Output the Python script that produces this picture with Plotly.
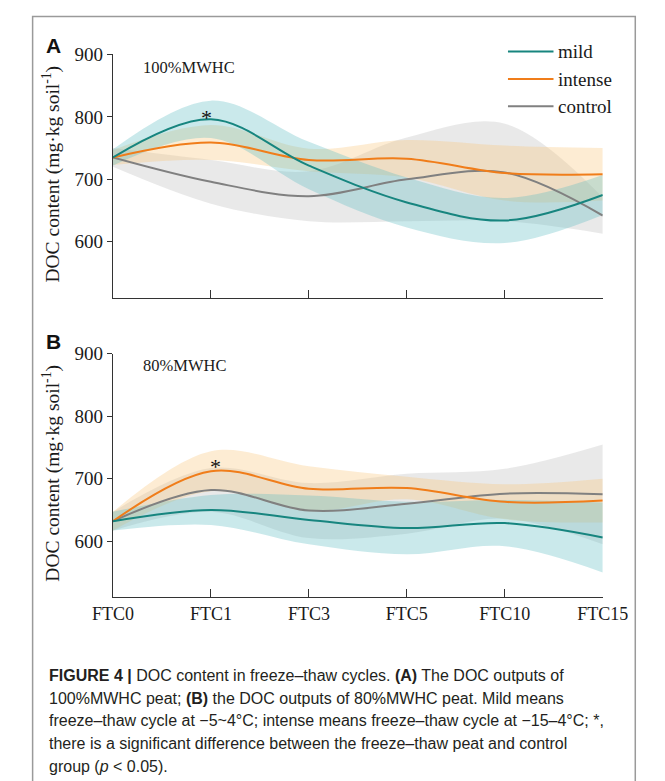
import plotly.graph_objects as go

# ---------------- data ----------------
categories = ["FTC0", "FTC1", "FTC3", "FTC5", "FTC10", "FTC15"]
y_ticks = [600, 700, 800, 900]
series_names = ["mild", "intense", "control"]

# Panel A: 100%MWHC  (mean, band half-width)
mild_100 = [735, 796, 722, 663, 634, 675]
mild_100_sd = [13, 30, 38, 40, 36, 32]
intense_100 = [735, 759, 731, 733, 710, 708]
intense_100_sd = [12, 28, 18, 30, 44, 42]
control_100 = [735, 696, 673, 700, 711, 642]
control_100_sd = [15, 35, 40, 67, 78, 29]

# Panel B: 80%MWHC
mild_80 = [632, 650, 634, 621, 629, 606]
mild_80_sd = [15, 24, 39, 42, 37, 56]
intense_80 = [632, 712, 684, 685, 663, 665]
intense_80_sd = [15, 32, 36, 18, 28, 35]
control_80 = [632, 682, 649, 660, 676, 675]
control_80_sd = [15, 35, 44, 48, 40, 80]

# ---------------- styling ----------------
W, H = 665, 781
def fx(px):
    return px / W
def fy(py):
    return 1 - py / H

line_col = {"mild": "#17857f", "intense": "#f07d1a", "control": "#808080"}
band_col = {"mild": "rgba(95,188,195,0.33)",
            "intense": "rgba(250,198,120,0.33)",
            "control": "rgba(175,175,175,0.28)"}
SERIF = "Liberation Serif"
SANS = "Liberation Sans"
AX = "#333333"

fig = go.Figure()

panels = [
    ("x", "y", {"mild": (mild_100, mild_100_sd),
                "intense": (intense_100, intense_100_sd),
                "control": (control_100, control_100_sd)}),
    ("x2", "y2", {"mild": (mild_80, mild_80_sd),
                  "intense": (intense_80, intense_80_sd),
                  "control": (control_80, control_80_sd)}),
]

for xa, ya, data in panels:
    # bands
    for name in ["control", "intense", "mild"]:
        mean, sd = data[name]
        lower = [m - s for m, s in zip(mean, sd)]
        upper = [m + s for m, s in zip(mean, sd)]
        fig.add_trace(go.Scatter(x=categories, y=lower, xaxis=xa, yaxis=ya,
                                 mode="lines", line=dict(width=0, shape="spline"),
                                 showlegend=False, hoverinfo="skip"))
        fig.add_trace(go.Scatter(x=categories, y=upper, xaxis=xa, yaxis=ya,
                                 mode="lines", line=dict(width=0, shape="spline"),
                                 fill="tonexty", fillcolor=band_col[name],
                                 showlegend=False, hoverinfo="skip"))
    # lines
    for name in ["control", "intense", "mild"]:
        mean, sd = data[name]
        fig.add_trace(go.Scatter(x=categories, y=mean, xaxis=xa, yaxis=ya,
                                 mode="lines", name=name,
                                 line=dict(color=line_col[name], width=2, shape="spline"),
                                 showlegend=False))

xdom = [fx(99), fx(626)]
common_x = dict(type="category", categoryorder="array", categoryarray=categories,
                range=[0, 5], showline=True, linecolor=AX, linewidth=1.3,
                ticks="inside", ticklen=8, tickwidth=1.3, tickcolor=AX,
                showgrid=False, zeroline=False, fixedrange=True,
                tickfont=dict(family=SERIF, size=18, color="#1a1a1a"))
common_y = dict(range=[510, 900], tickvals=y_ticks, showline=True, linecolor=AX,
                linewidth=1.3, ticks="outside", ticklen=5, tickwidth=1.3, tickcolor=AX,
                showgrid=False, zeroline=False, fixedrange=True,
                tickfont=dict(family=SERIF, size=19, color="#1a1a1a"))

fig.update_layout(
    width=W, height=H,
    margin=dict(l=0, r=0, t=0, b=0),
    paper_bgcolor="white", plot_bgcolor="rgba(0,0,0,0)",
    showlegend=False,
    xaxis=dict(common_x, domain=xdom, anchor="y", showticklabels=False),
    yaxis=dict(common_y, domain=[fy(291.7), fy(45)], anchor="x"),
    xaxis2=dict(common_x, domain=xdom, anchor="y2", showticklabels=True),
    yaxis2=dict(common_y, domain=[fy(595), fy(348.3)], anchor="x2"),
)

ann = []
shapes = []

# outer frame
shapes.append(dict(type="rect", xref="paper", yref="paper",
                   x0=fx(12.5), x1=fx(661), y0=-0.05, y1=fy(6.5),
                   line=dict(color="#9a9a9a", width=1.5)))

# panel letters
for txt, py in [("A", 36), ("B", 336)]:
    ann.append(dict(text="<b>%s</b>" % txt, x=fx(35), y=fy(py), xref="paper", yref="paper",
                    xanchor="center", yanchor="middle", showarrow=False,
                    font=dict(family=SANS, size=21, color="#111")))

# y axis titles
ytitle = "DOC content (mg·kg soil<sup>-1</sup>)"
for py in [166, 469]:
    ann.append(dict(text=ytitle, x=fx(33), y=fy(py), xref="paper", yref="paper",
                    xanchor="center", yanchor="middle", textangle=-90, showarrow=False,
                    font=dict(family=SERIF, size=19.5, color="#1a1a1a")))

# moisture labels
for txt, py in [("100%MWHC", 58), ("80%MWHC", 360)]:
    ann.append(dict(text=txt, x=fx(129), y=fy(py), xref="paper", yref="paper",
                    xanchor="left", yanchor="middle", showarrow=False,
                    font=dict(family=SERIF, size=16.5, color="#1a1a1a")))

# significance stars
for px, py in [(199.5, 109), (209, 462)]:
    ann.append(dict(text="*", x=fx(px), y=fy(py), xref="paper", yref="paper",
                    xanchor="center", yanchor="middle", showarrow=False,
                    font=dict(family=SERIF, size=22, color="#111")))

# legend (manual)
for name, py in zip(series_names, [42, 70, 97.5]):
    shapes.append(dict(type="line", xref="paper", yref="paper",
                       x0=fx(524), x1=fx(573), y0=fy(py), y1=fy(py),
                       line=dict(color=line_col[name], width=2)))
    ann.append(dict(text=name, x=fx(576), y=fy(py), xref="paper", yref="paper",
                    xanchor="left", yanchor="middle", showarrow=False,
                    font=dict(family=SERIF, size=19, color="#1a1a1a")))

# caption
caption = [
    "<b>FIGURE 4 |</b> DOC content in freeze–thaw cycles. <b>(A)</b> The DOC outputs of",
    "100%MWHC peat; <b>(B)</b> the DOC outputs of 80%MWHC peat. Mild means",
    "freeze–thaw cycle at −5~4°C; intense means freeze–thaw cycle at −15–4°C; *,",
    "there is a significant difference between the freeze–thaw peat and control",
    "group (<i>p</i> &lt; 0.05).",
]
for i, line in enumerate(caption):
    ann.append(dict(text=line, x=fx(28), y=fy(674 + 23 * i), xref="paper", yref="paper",
                    xanchor="left", yanchor="middle", showarrow=False,
                    font=dict(family=SANS, size=16, color="#231f20")))

fig.update_layout(annotations=ann, shapes=shapes)
fig.write_html("out.html")
